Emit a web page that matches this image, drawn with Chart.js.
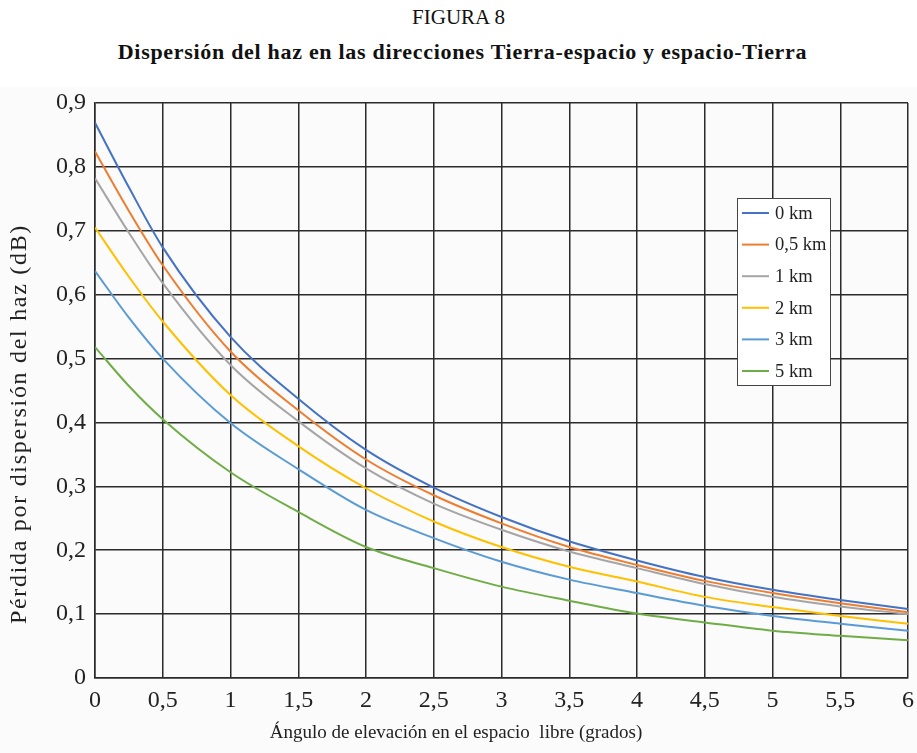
<!DOCTYPE html>
<html lang="es">
<head>
   <meta charset="UTF-8">
   <title>Figura 8</title>
   <script src="https://cdn.jsdelivr.net/npm/chart.js"></script>
   <style>
      body {
         margin: 0;
         background: #ffffff;
         font-family: 'Liberation Serif', 'Times New Roman', serif;
         width: 917px;
         height: 753px;
         overflow: hidden;
         position: relative;
      }

      .titulo {
         position: absolute;
         left: 0;
         width: 917px;
         text-align: center;
         color: #111;
         line-height: 1;
      }

      #t1 {
         top: 7px;
         font-size: 21px;
      }

      #t2 {
         top: 41px;
         left: 4px;
         font-size: 22px;
         font-weight: bold;
         letter-spacing: 0.7px;
      }

      /* panel gris muy claro donde va el grafico */
      .panel {
         position: absolute;
         left: 0;
         top: 87px;
         width: 917px;
         height: 666px;
         background: #fbfbfb;
      }
   </style>
</head>
<body>
   <div class="titulo" id="t1">FIGURA 8</div>
   <div class="titulo" id="t2">Dispersión del haz en las direcciones Tierra-espacio y espacio-Tierra</div>
   <div class="panel">
      <canvas id="grafico"></canvas>
   </div>

<script>
   // datos
   var angulos = [0, 0.25, 0.5, 1, 1.5, 2, 2.5, 3, 3.5, 4, 4.5, 5, 5.5, 6];
   var alt0 = [0.869, 0.768, 0.674, 0.534, 0.437, 0.357, 0.298, 0.252, 0.214, 0.184, 0.158, 0.138, 0.122, 0.108];
   var alt05 = [0.824, 0.731, 0.646, 0.511, 0.419, 0.342, 0.286, 0.242, 0.205, 0.177, 0.152, 0.133, 0.117, 0.103];
   var alt1 = [0.782, 0.697, 0.618, 0.490, 0.402, 0.328, 0.273, 0.232, 0.198, 0.172, 0.147, 0.127, 0.112, 0.100];
   var alt2 = [0.705, 0.628, 0.558, 0.443, 0.363, 0.297, 0.245, 0.205, 0.174, 0.151, 0.127, 0.111, 0.097, 0.085];
   var alt3 = [0.637, 0.564, 0.500, 0.399, 0.327, 0.263, 0.219, 0.182, 0.154, 0.133, 0.113, 0.097, 0.085, 0.074];
   var alt5 = [0.518, 0.457, 0.405, 0.322, 0.260, 0.205, 0.172, 0.143, 0.121, 0.101, 0.087, 0.074, 0.066, 0.059];

   var nombres = ["0 km", "0,5 km", "1 km", "2 km", "3 km", "5 km"];
   var colores = ["#4472C4", "#ED7D31", "#A5A5A5", "#FFC000", "#5B9BD5", "#70AD47"];
   var series = [alt0, alt05, alt1, alt2, alt3, alt5];

   var xTicks = ["0", "0,5", "1", "1,5", "2", "2,5", "3", "3,5", "4", "4,5", "5", "5,5", "6"];
   var yTicks = ["0", "0,1", "0,2", "0,3", "0,4", "0,5", "0,6", "0,7", "0,8", "0,9"];

   var tituloY = "Pérdida por dispersión del haz (dB)";
   var tituloX = "Ángulo de elevación en el espacio  libre (grados)";

   var fuente = "'Liberation Serif', 'Times New Roman', serif";

   var datasets = series.map(function (s, i) {
      return {
         label: nombres[i],
         data: s.map(function (v, j) { return { x: angulos[j], y: v }; }),
         borderColor: colores[i],
         backgroundColor: colores[i],
         borderWidth: 2,
         pointRadius: 0,
         cubicInterpolationMode: "monotone",
         fill: false
      };
   });

   // leyenda dentro del area del grafico + titulos de los ejes
   var extras = {
      id: "extras",
      afterDraw: function (chart) {
         var ctx = chart.ctx;
         var area = chart.chartArea;
         var x0 = area.right - 171;
         var y0 = area.top + 95;
         var w = 93, h = 187;
         ctx.save();
         ctx.fillStyle = "#ffffff";
         ctx.fillRect(x0, y0, w, h);
         ctx.strokeStyle = "#444";
         ctx.lineWidth = 1;
         ctx.strokeRect(x0 + 0.5, y0 + 0.5, w, h);
         ctx.font = "18.5px " + fuente;
         ctx.textBaseline = "middle";
         chart.data.datasets.forEach(function (ds, i) {
            var yy = y0 + 15 + i * 31.6;
            ctx.strokeStyle = ds.borderColor;
            ctx.lineWidth = 2;
            ctx.beginPath();
            ctx.moveTo(x0 + 5, yy);
            ctx.lineTo(x0 + 32, yy);
            ctx.stroke();
            ctx.fillStyle = "#222";
            ctx.fillText(ds.label, x0 + 38, yy + 1);
         });
         ctx.restore();

         // titulo eje Y
         ctx.save();
         ctx.translate(20, 337);
         ctx.rotate(-Math.PI / 2);
         ctx.font = "24px " + fuente;
         if ("letterSpacing" in ctx) ctx.letterSpacing = "1.7px";
         ctx.fillStyle = "#222";
         ctx.textAlign = "center";
         ctx.textBaseline = "middle";
         ctx.fillText(tituloY, 0, 0);
         ctx.restore();

         // titulo eje X (centrado en la pagina)
         ctx.save();
         ctx.font = "19px " + fuente;
         ctx.fillStyle = "#222";
         ctx.textAlign = "center";
         ctx.textBaseline = "middle";
         ctx.fillText(tituloX, 456, 646);
         ctx.restore();
      }
   };

   Chart.defaults.font.family = fuente;
   Chart.defaults.color = "#222";

   new Chart(document.getElementById("grafico"), {
      type: "line",
      data: { datasets: datasets },
      options: {
         responsive: true,
         maintainAspectRatio: false,
         animation: false,
         layout: { padding: 0 },
         plugins: {
            legend: { display: false },
            tooltip: { enabled: false }
         },
         scales: {
            x: {
               type: "linear",
               min: 0,
               max: 6,
               ticks: {
                  stepSize: 0.5,
                  padding: 8,
                  font: { size: 24 },
                  maxRotation: 0,
                  callback: function (v, i) { return xTicks[i]; }
               },
               grid: { color: "#2b2b2b", lineWidth: 1.5, drawTicks: false },
               border: { color: "#2b2b2b", width: 1.5 },
               afterFit: function (scale) {
                  scale.height = 75;
                  scale.paddingLeft = 0;
                  scale.paddingRight = 9;
               }
            },
            y: {
               min: 0,
               max: 0.9,
               ticks: {
                  stepSize: 0.1,
                  padding: 9,
                  font: { size: 24 },
                  callback: function (v, i) { return yTicks[i]; }
               },
               grid: { color: "#2b2b2b", lineWidth: 1.5, drawTicks: false },
               border: { color: "#2b2b2b", width: 1.5 },
               afterFit: function (scale) {
                  scale.width = 95;
                  scale.paddingTop = 16;
                  scale.paddingBottom = 0;
               }
            }
         }
      },
      plugins: [extras]
   });
</script>
</body>
</html>
